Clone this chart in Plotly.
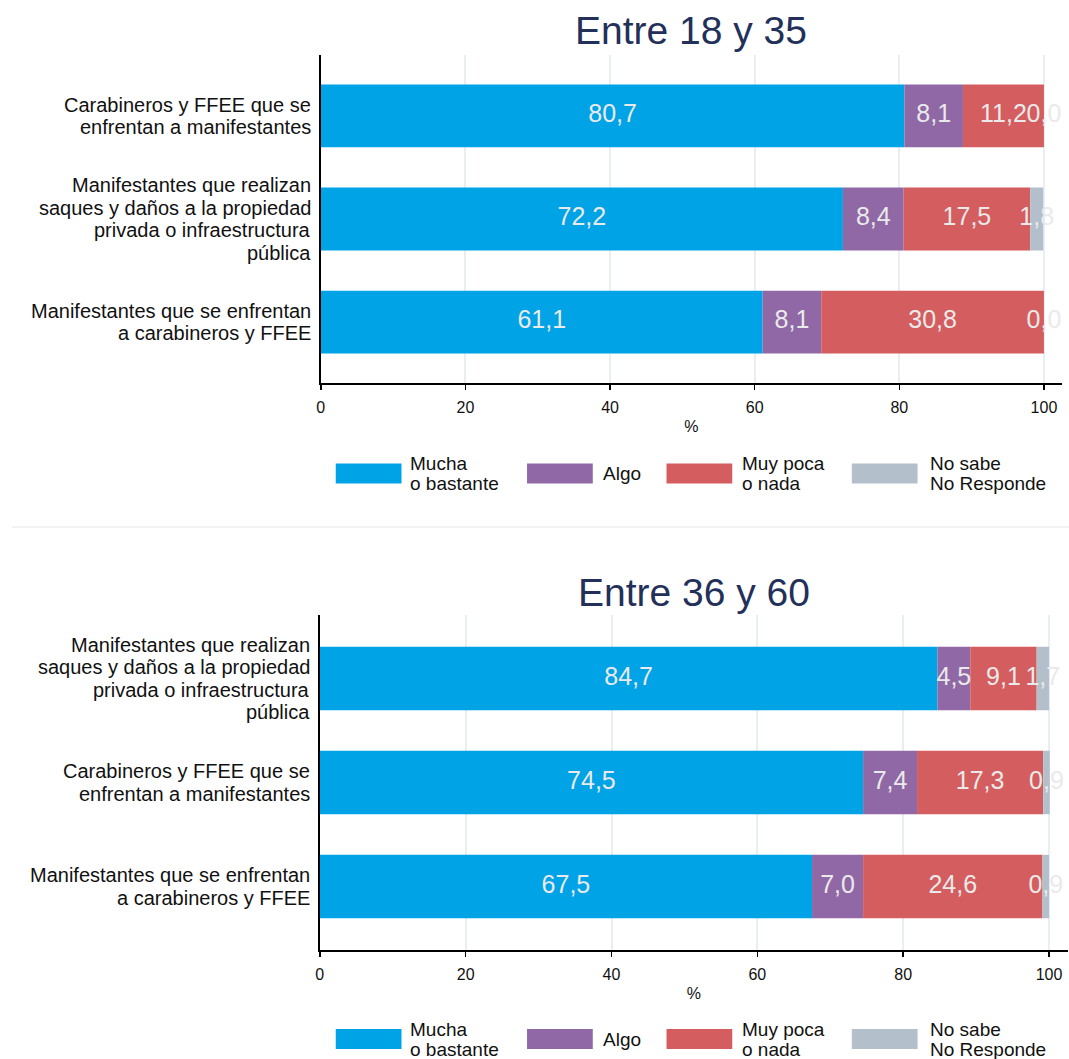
import plotly.graph_objects as go

W, H = 1069, 1059

# ---------------- data ----------------
series_names = ["Mucha<br>o bastante", "Algo", "Muy poca<br>o nada", "No sabe<br>No Responde"]
series_colors = ["#00A3E6", "#9068A6", "#D45D5F", "#B3BFCB"]

cat_carab = "Carabineros y FFEE que se<br>enfrentan a manifestantes"
cat_saqueos = "Manifestantes que realizan<br>saques y daños a la propiedad<br>privada o infraestructura<br>pública"
cat_enfrent = "Manifestantes que se enfrentan<br>a carabineros y FFEE"

top_title = "Entre 18 y 35"
top_categories = [cat_carab, cat_saqueos, cat_enfrent]
top_mucha = [80.7, 72.2, 61.1]
top_algo = [8.1, 8.4, 8.1]
top_muypoca = [11.2, 17.5, 30.8]
top_nsnr = [0.0, 1.8, 0.0]

bottom_title = "Entre 36 y 60"
bottom_categories = [cat_saqueos, cat_carab, cat_enfrent]
bottom_mucha = [84.7, 74.5, 67.5]
bottom_algo = [4.5, 7.4, 7.0]
bottom_muypoca = [9.1, 17.3, 24.6]
bottom_nsnr = [1.7, 0.9, 0.9]

x_ticks = [0, 20, 40, 60, 80, 100]
x_title = "%"

FONT = "Liberation Sans, Arial, sans-serif"

def px_x(x):
    return x / W

def px_y(y):
    return 1 - y / H

panels = [
    dict(title=top_title, cats=top_categories,
         vals=[top_mucha, top_algo, top_muypoca, top_nsnr],
         xdom=[px_x(318), px_x(1062)], ydom=[px_y(383), px_y(55)],
         xmax=102.5, yrange=[2.59, -0.59], title_y=30, legend_y=473.5,
         xa="x", ya="y"),
    dict(title=bottom_title, cats=bottom_categories,
         vals=[bottom_mucha, bottom_algo, bottom_muypoca, bottom_nsnr],
         xdom=[px_x(317), px_x(1068)], ydom=[px_y(950), px_y(615)],
         xmax=102.6, yrange=[2.61, -0.61], title_y=592, legend_y=1039,
         xa="x2", ya="y2"),
]

fig = go.Figure()
annotations = []
shapes = []

legend_rects = [(333, 399), (525, 591), (665, 731), (851, 917)]
legend_text_x = [406, 599, 739, 927]
CAT_LINE = 22.5

for p in panels:
    cum = [0.0] * len(p["cats"])
    for name, color, vals in zip(series_names, series_colors, p["vals"]):
        fig.add_trace(go.Bar(
            y=p["cats"], x=vals, base=cum[:], orientation="h",
            marker=dict(color=color, line=dict(width=0)),
            width=0.61, name=name.replace("<br>", " "), showlegend=False,
            xaxis=p["xa"], yaxis=p["ya"], hoverinfo="skip",
        ))
        centers = [c + v / 2 for c, v in zip(cum, vals)]
        fig.add_trace(go.Scatter(
            y=p["cats"], x=centers, mode="text",
            text=[f"{v:.1f}".replace(".", ",") for v in vals],
            textfont=dict(family=FONT, size=25, color="#EAEAEA"),
            textposition="middle center", showlegend=False, hoverinfo="skip",
            xaxis=p["xa"], yaxis=p["ya"], cliponaxis=False,
        ))
        cum = [c + v for c, v in zip(cum, vals)]

    # category labels (one annotation per line for tight line spacing)
    for cat in p["cats"]:
        lines = cat.split("<br>")
        n = len(lines)
        for i, line in enumerate(lines):
            annotations.append(dict(
                text=line, xref="paper", yref=p["ya"],
                x=p["xdom"][0] - 8 / W, y=cat,
                yshift=-(i - (n - 1) / 2) * CAT_LINE,
                xanchor="right", yanchor="middle", showarrow=False,
                font=dict(family=FONT, size=20, color="#111111"),
            ))

    # title
    annotations.append(dict(
        text=p["title"], xref="paper", yref="paper",
        x=(p["xdom"][0] + p["xdom"][1]) / 2, y=px_y(p["title_y"]),
        xanchor="center", yanchor="middle", showarrow=False,
        font=dict(family=FONT, size=39, color="#22305A"),
    ))
    # custom legend
    ly = p["legend_y"]
    for (x0, x1), tx, name, color in zip(legend_rects, legend_text_x, series_names, series_colors):
        shapes.append(dict(type="rect", xref="paper", yref="paper",
                           x0=px_x(x0), x1=px_x(x1), y0=px_y(ly - 10), y1=px_y(ly + 10),
                           fillcolor=color, line=dict(width=0)))
        lines = name.split("<br>")
        offs = [0] if len(lines) == 1 else [-10, 10]
        for line, o in zip(lines, offs):
            annotations.append(dict(
                text=line, xref="paper", yref="paper", x=px_x(tx), y=px_y(ly + o),
                xanchor="left", yanchor="middle", showarrow=False,
                font=dict(family=FONT, size=19, color="#111111"),
            ))

# separator
shapes.append(dict(type="line", xref="paper", yref="paper",
                   x0=px_x(8), x1=1, y0=px_y(527), y1=px_y(527),
                   line=dict(color="#E6E6E6", width=1)))

axis_common_x = dict(
    showline=True, linecolor="black", linewidth=2,
    ticks="outside", ticklen=5, tickwidth=1.5, tickcolor="black",
    tickvals=x_ticks, showgrid=True, gridcolor="#E8EEF3", gridwidth=2,
    zeroline=False, tickfont=dict(family=FONT, size=16, color="#111111"),
    ticklabelstandoff=4,
    title=dict(text=x_title, font=dict(family=FONT, size=16, color="#111111"), standoff=6),
    fixedrange=True,
)
axis_common_y = dict(
    showline=True, linecolor="black", linewidth=2, ticks="",
    showgrid=False, zeroline=False, showticklabels=False,
    fixedrange=True, categoryorder="array",
)

p0, p1 = panels
fig.update_layout(
    width=W, height=H, autosize=False,
    margin=dict(l=0, r=0, t=0, b=0),
    paper_bgcolor="white", plot_bgcolor="white",
    barmode="overlay", showlegend=False,
    annotations=annotations, shapes=shapes,
    xaxis=dict(domain=p0["xdom"], range=[0, p0["xmax"]], anchor="y", **axis_common_x),
    yaxis=dict(domain=p0["ydom"], range=p0["yrange"], anchor="x",
               categoryarray=p0["cats"], **axis_common_y),
    xaxis2=dict(domain=p1["xdom"], range=[0, p1["xmax"]], anchor="y2", **axis_common_x),
    yaxis2=dict(domain=p1["ydom"], range=p1["yrange"], anchor="x2",
                categoryarray=p1["cats"], **axis_common_y),
)

fig.write_html(
    "out.html",
    config={"displayModeBar": False, "staticPlot": True},
    post_script="document.body.style.margin='0';document.documentElement.style.overflow='hidden';",
)
